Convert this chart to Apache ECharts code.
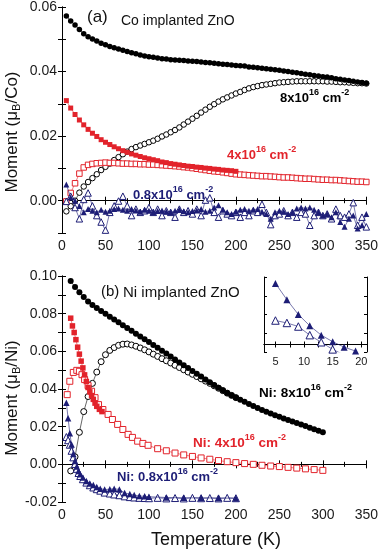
<!DOCTYPE html>
<html>
<head>
<meta charset="utf-8">
<script src="https://cdn.jsdelivr.net/npm/echarts@6/dist/echarts.min.js"></script>
<style>
html,body{margin:0;padding:0;background:#fff;}
#c{width:381px;height:551px;}
</style>
</head>
<body>
<div id="c"></div>
<script>
// ---------- Panel (a): Co implanted ZnO ----------
const coT = [5,10,15,20,25,30,35,40,45,50,55,60,65,70,75,80,85,90,95,100,105,110,115,120,125,130,135,140,145,150,155,160,165,170,175,180,185,190,195,200,205,210,215,220,225,230,235,240,245,250,255,260,265,270,275,280,285,290,295,300,305,310,315,320,325,330,335,340,345,350];
const co8FC = [0.0572,0.0557,0.0544,0.0530,0.0517,0.0508,0.0501,0.0495,0.0488,0.0483,0.0478,0.0474,0.0470,0.0466,0.0462,0.0458,0.0455,0.0451,0.0448,0.0446,0.0444,0.0442,0.0440,0.0439,0.0437,0.0436,0.0435,0.0434,0.0433,0.0432,0.0431,0.0430,0.0428,0.0427,0.0426,0.0424,0.0423,0.0422,0.0420,0.0419,0.0418,0.0417,0.0414,0.0413,0.0412,0.0410,0.0409,0.0407,0.0406,0.0404,0.0402,0.0400,0.0398,0.0396,0.0394,0.0392,0.0390,0.0388,0.0386,0.0384,0.0383,0.0381,0.0378,0.0376,0.0374,0.0372,0.0370,0.0368,0.0366,0.0364];
const co8ZFC = [-0.0033,-0.0017,0.0000,0.0025,0.0044,0.0058,0.0070,0.0082,0.0095,0.0105,0.0115,0.0126,0.0135,0.0144,0.0152,0.0160,0.0166,0.0171,0.0176,0.0181,0.0186,0.0192,0.0199,0.0205,0.0212,0.0219,0.0227,0.0236,0.0245,0.0254,0.0263,0.0273,0.0282,0.0291,0.0299,0.0307,0.0314,0.0320,0.0326,0.0332,0.0337,0.0343,0.0348,0.0352,0.0355,0.0358,0.0360,0.0362,0.0364,0.0366,0.0367,0.0368,0.0369,0.0370,0.0370,0.0370,0.0370,0.0370,0.0370,0.0370,0.0369,0.0369,0.0368,0.0367,0.0367,0.0366,0.0365,0.0364,0.0364,0.0363];
const co4T = [5,10,15,20,25,30,35,40,45,50,55,60,65,70,75,80,85,90,95,100,105,110,115,120,125,130,135,140,145,150,155,160,165,170,175,180,185,190,195,200];
const co4FC = [0.0310,0.0287,0.0267,0.0250,0.0235,0.0221,0.0209,0.0199,0.0189,0.0181,0.0174,0.0167,0.0161,0.0155,0.0150,0.0145,0.0141,0.0137,0.0133,0.0130,0.0127,0.0124,0.0120,0.0118,0.0115,0.0113,0.0111,0.0109,0.0107,0.0106,0.0104,0.0103,0.0101,0.0100,0.0098,0.0097,0.0095,0.0094,0.0093,0.0091];
const co4ZFC = [-0.0002,0.0024,0.0054,0.0084,0.0103,0.0111,0.0114,0.0116,0.0117,0.0118,0.0117,0.0117,0.0116,0.0115,0.0115,0.0114,0.0114,0.0113,0.0113,0.0112,0.0112,0.0111,0.0110,0.0109,0.0108,0.0107,0.0106,0.0104,0.0103,0.0101,0.0099,0.0097,0.0095,0.0093,0.0091,0.0090,0.0088,0.0086,0.0084,0.0082,0.0081,0.0080,0.0079,0.0078,0.0077,0.0076,0.0076,0.0075,0.0074,0.0073,0.0072,0.0072,0.0071,0.0070,0.0069,0.0068,0.0068,0.0067,0.0066,0.0065,0.0065,0.0064,0.0064,0.0063,0.0062,0.0061,0.0060,0.0059,0.0059,0.0058];
const co08FC = [0.0050,0.0010,0.0000,-0.0016,-0.0036,-0.0026,-0.0031,-0.0036,-0.0028,-0.0034,-0.0031,-0.0026,-0.0024,-0.0028,-0.0031,-0.0026,-0.0030,-0.0034,-0.0028,-0.0031,-0.0036,-0.0032,-0.0030,-0.0034,-0.0036,-0.0031,-0.0028,-0.0033,-0.0036,-0.0032,-0.0030,-0.0026,-0.0034,-0.0031,-0.0021,-0.0014,-0.0028,-0.0036,-0.0041,-0.0034,-0.0028,-0.0026,-0.0031,-0.0028,-0.0026,-0.0034,-0.0041,-0.0056,-0.0036,-0.0031,-0.0034,-0.0041,-0.0036,-0.0024,-0.0021,-0.0024,-0.0021,-0.0028,-0.0036,-0.0046,-0.0041,-0.0051,-0.0036,-0.0066,-0.0081,-0.0056,-0.0046,-0.0086,-0.0076,-0.0041];
const co08ZFC = [-0.0002,0.0014,-0.0021,-0.0056,0.0004,0.0024,-0.0016,-0.0046,-0.0066,-0.0091,-0.0036,-0.0016,-0.0001,0.0014,-0.0016,-0.0046,-0.0026,-0.0036,-0.0031,-0.0021,-0.0036,-0.0026,-0.0046,-0.0031,-0.0036,-0.0051,-0.0026,-0.0036,-0.0031,-0.0041,-0.0026,-0.0046,0.0002,0.0009,-0.0036,-0.0051,-0.0031,-0.0041,-0.0046,-0.0036,-0.0051,-0.0036,-0.0046,-0.0031,-0.0036,-0.0011,-0.0036,-0.0074,-0.0046,-0.0041,-0.0031,-0.0046,-0.0036,-0.0051,-0.0036,-0.0041,-0.0076,-0.0046,-0.0036,-0.0046,-0.0041,-0.0056,-0.0026,-0.0046,-0.0051,-0.0041,-0.0006,-0.0076,-0.0051,-0.0081];

// ---------- Panel (b): Ni implanted ZnO ----------
const ni8T = [10,15,20,25,30,35,40,45,50,55,60,65,70,75,80,85,90,95,100,105,110,115,120,125,130,135,140,145,150,155,160,165,170,175,180,185,190,195,200,205,210,215,220,225,230,235,240,245,250,255,260,265,270,275,280,285,290,295,300];
const ni8FC = [0.0973,0.0942,0.0914,0.0888,0.0864,0.0846,0.0830,0.0814,0.0799,0.0784,0.0769,0.0754,0.0739,0.0724,0.0709,0.0694,0.0679,0.0664,0.0649,0.0634,0.0619,0.0603,0.0588,0.0572,0.0557,0.0541,0.0526,0.0511,0.0496,0.0481,0.0466,0.0451,0.0436,0.0421,0.0407,0.0393,0.0379,0.0367,0.0355,0.0343,0.0332,0.0321,0.0310,0.0299,0.0289,0.0279,0.0270,0.0261,0.0252,0.0244,0.0236,0.0228,0.0220,0.0212,0.0203,0.0194,0.0186,0.0178,0.0171];
const ni8zT = [10,15,20,25,30,35,40,45,50,55,60,65,70,75,80,85,90,95,100,105,110,115,120,125,130,135,140,145,150,155,160,165,170,175,180,185,190,195,200];
const ni8ZFC = [-0.0035,0.0040,0.0170,0.0280,0.0360,0.0430,0.0490,0.0545,0.0582,0.0605,0.0620,0.0632,0.0638,0.0639,0.0634,0.0627,0.0618,0.0608,0.0597,0.0585,0.0573,0.0561,0.0550,0.0538,0.0526,0.0514,0.0502,0.0490,0.0478,0.0466,0.0454,0.0442,0.0430,0.0417,0.0404,0.0391,0.0378,0.0366,0.0354];
const ni4T = [10,12,14,16,18,20,22,24,26,28,30,32,34,36,38,40,43,46];
const ni4FC = [0.0776,0.0735,0.0700,0.0662,0.0622,0.0585,0.0548,0.0512,0.0475,0.0440,0.0408,0.0385,0.0365,0.0345,0.0325,0.0308,0.0292,0.0280];
const ni4zT = [6,9,13,17,20,23,26,30,34,38,42,47,53,58,64,70,76,81,87,93,99,110,120,130,140,150,160,170,180,190,200,210,220,230,240,250,260,270,280,290,300];
const ni4ZFC = [0.0370,0.0441,0.0488,0.0499,0.0494,0.0476,0.0450,0.0418,0.0388,0.0354,0.0317,0.0291,0.0265,0.0238,0.0212,0.0185,0.0159,0.0143,0.0123,0.0111,0.0101,0.0083,0.0072,0.0060,0.0050,0.0042,0.0034,0.0027,0.0020,0.0014,0.0009,0.0004,0.0000,-0.0005,-0.0009,-0.0012,-0.0016,-0.0020,-0.0024,-0.0028,-0.0032];
const ni08T = [5,7,9,11,13,15,17,19,21,24,28,32,36,40,44,49,55,60,66,72,78,83,89,95,100,120,140,160,180,200];
const ni08FC = [0.0327,0.0245,0.0165,0.0105,0.0055,0.0018,-0.0012,-0.0035,-0.0053,-0.0070,-0.0088,-0.0102,-0.0110,-0.0120,-0.0129,-0.0134,-0.0132,-0.0130,-0.0133,-0.0152,-0.0158,-0.0163,-0.0168,-0.0170,-0.0172,-0.0176,-0.0178,-0.0178,-0.0179,-0.0180];
const ni08zT = [5,7,9,11,13,15,17,19,21,24,28,32,36,40,44,49,55,60,66,72,78,83,89,95,100,110,120,130,140,150,160,170,180,190,200];
const ni08ZFC = [0.0145,0.0128,0.0104,0.0072,0.0037,0.0002,-0.0024,-0.0046,-0.0062,-0.0079,-0.0097,-0.0111,-0.0123,-0.0132,-0.0140,-0.0150,-0.0155,-0.0160,-0.0164,-0.0170,-0.0174,-0.0176,-0.0178,-0.0179,-0.0180,-0.0178,-0.0181,-0.0179,-0.0181,-0.0178,-0.0180,-0.0179,-0.0181,-0.0178,-0.0180];

// ---------- Inset (Ni 0.8x10^16, low T) ----------
const insetT = [5,7,9,11,13,15,17,19];
const insetFC = [0.0326,0.0239,0.0160,0.0100,0.0050,0.0015,-0.0014,-0.0035];
const insetZT = [5,7,9,11,13,15,17];
const insetZFC = [0.0128,0.0115,0.0096,0.0050,0.0012,-0.0026,-0.0056];

// tick labels
const xTicks = [0,50,100,150,200,250,300,350];
const insetXTicks = [5,10,15,20];

const FONT = 'Liberation Sans, Arial, Helvetica, sans-serif';
const BLACK = '#000000', RED = '#e2232b', NAVY = '#1d1d76';

function pairs(t, v){ return t.map((x,i)=>[x, v[i]]); }
// open = white fill with coloured outline
function ser(xi, yi, t, v, symbol, open, color, size, z){
  return {
    type:'line', xAxisIndex:xi, yAxisIndex:yi, data:pairs(t,v),
    symbol:symbol, symbolSize:size, showSymbol:true, animation:false, z:z||2,
    lineStyle:{color:color, width:0.6},
    itemStyle: open ? {color:'#ffffff', borderColor:color, borderWidth:1}
                    : {color:color, borderWidth:0},
    emphasis:{disabled:true}, silent:true
  };
}
function fmt2(v){
  const k = Math.round(v*100);
  if (Math.abs(k) % 2 !== 0) return '';
  const r = k/100;
  return (r === 0 ? 0 : r).toFixed(2);
}
const lab = {fontFamily:FONT, fontSize:14, color:'#1a1a1a'};
const aLine = {show:true, lineStyle:{color:'#000', width:1}};

function xMain(gi, min, max){
  return [
    {type:'value', gridIndex:gi, position:'bottom', min:min, max:max, interval:50,
     axisLine:aLine, axisTick:{inside:true, length:4, lineStyle:{color:'#000'}},
     minorTick:{show:true, splitNumber:2, length:2.5, lineStyle:{color:'#000'}},
     splitLine:{show:false}, axisLabel:Object.assign({margin:6, customValues:xTicks}, lab)},
    {type:'value', gridIndex:gi, position:'top', min:min, max:max, interval:50,
     axisLine:aLine, axisTick:{inside:true, length:4, lineStyle:{color:'#000'}},
     minorTick:{show:true, splitNumber:2, length:2.5, lineStyle:{color:'#000'}},
     splitLine:{show:false}, axisLabel:{show:false}}
  ];
}
function yMain(gi, min, max){
  return [
    {type:'value', gridIndex:gi, position:'left', min:min, max:max, interval:0.01,
     axisLine:aLine, axisTick:{inside:true, length:4, lineStyle:{color:'#000'}},
     splitLine:{show:false}, axisLabel:Object.assign({margin:5, formatter:fmt2}, lab)},
    {type:'value', gridIndex:gi, position:'right', min:min, max:max, interval:0.01,
     axisLine:aLine, axisTick:{inside:true, length:4, lineStyle:{color:'#000'}},
     splitLine:{show:false}, axisLabel:{show:false}}
  ];
}

function supLabel(x, y, a, s1, b, s2, color, size, ssize){
  return {type:'text', x:x, y:y, silent:true, z:10,
    style:{text:'{m|'+a+'}{s|'+s1+'}{m|'+b+'}{s|'+s2+'}', align:'left', verticalAlign:'middle',
      rich:{
        m:{fontFamily:FONT, fontSize:size, fontWeight:'bold', fill:color, lineHeight:20},
        s:{fontFamily:FONT, fontSize:ssize, fontWeight:'bold', fill:color, lineHeight:ssize, verticalAlign:'top'}
      }}};
}
function plainText(x, y, text, size, align){
  return {type:'text', x:x, y:y, silent:true, z:10,
    style:{text:text, fontFamily:FONT, fontSize:size, fill:'#111', align:align||'left', verticalAlign:'middle'}};
}
function yTitle(x, y, unit){
  return {type:'text', x:x, y:y, rotation:Math.PI/2, silent:true, z:10,
    style:{text:'{m|Moment (μ}{b|B}{m|/'+unit+')}', align:'center', verticalAlign:'middle',
      rich:{
        m:{fontFamily:FONT, fontSize:17, fill:'#111', lineHeight:20},
        b:{fontFamily:FONT, fontSize:11, fill:'#111', lineHeight:11, verticalAlign:'bottom'}
      }}};
}

const chart = echarts.init(document.getElementById('c'), null, {renderer:'canvas'});
const xs = [].concat(xMain(0,0,350), xMain(1,0,350), [
  {type:'value', gridIndex:2, position:'bottom', min:3, max:21,
   axisLine:aLine, axisTick:{inside:true, length:3, customValues:[5,7.5,10,12.5,15,17.5,20], lineStyle:{color:'#000'}},
   splitLine:{show:false},
   axisLabel:{fontFamily:FONT, fontSize:11, color:'#1a1a1a', margin:4, customValues:insetXTicks}},
  {type:'value', gridIndex:2, position:'top', min:3, max:21,
   axisLine:aLine, axisTick:{inside:true, length:3, customValues:[5,7.5,10,12.5,15,17.5,20], lineStyle:{color:'#000'}},
   splitLine:{show:false}, axisLabel:{show:false}}
]);
const ys = [].concat(yMain(0,-0.01,0.06), yMain(1,-0.02,0.10), [
  {type:'value', gridIndex:2, position:'left', min:-0.004, max:0.036, interval:0.01,
   axisLine:aLine, axisTick:{inside:true, length:3, lineStyle:{color:'#000'}}, splitLine:{show:false}, axisLabel:{show:false}},
  {type:'value', gridIndex:2, position:'right', min:-0.004, max:0.036, interval:0.01,
   axisLine:aLine, axisTick:{inside:true, length:3, lineStyle:{color:'#000'}}, splitLine:{show:false}, axisLabel:{show:false}}
]);

const option = {
  backgroundColor:'#ffffff',
  animation:false,
  grid:[
    {left:62, right:11, top:6, height:227},
    {left:62, right:11, top:276, height:226},
    {left:264, top:277, width:103, height:75, show:true, backgroundColor:'#ffffff', borderWidth:0}
  ],
  xAxis: xs,
  yAxis: ys,
  series:[
    // panel a
    ser(0,0,coT,co8ZFC,'circle',true,BLACK,5.5,2),
    ser(0,0,coT,co8FC,'circle',false,BLACK,5.5,3),
    ser(0,0,coT,co4ZFC,'rect',true,RED,5.5,2),
    ser(0,0,co4T,co4FC,'rect',false,RED,5,3),
    ser(0,0,coT,co08ZFC,'triangle',true,NAVY,6.5,2),
    ser(0,0,coT,co08FC,'triangle',false,NAVY,6,3),
    // panel b
    ser(2,2,ni8zT,ni8ZFC,'circle',true,BLACK,6,2),
    ser(2,2,ni8T,ni8FC,'circle',false,BLACK,6,3),
    ser(2,2,ni4zT,ni4ZFC,'rect',true,RED,6,2),
    ser(2,2,ni4T,ni4FC,'rect',false,RED,5.5,3),
    ser(2,2,ni08zT,ni08ZFC,'triangle',true,NAVY,7,2),
    ser(2,2,ni08T,ni08FC,'triangle',false,NAVY,6.5,3),
    // inset
    ser(4,4,insetZT,insetZFC,'triangle',true,NAVY,7.5,4),
    ser(4,4,insetT,insetFC,'triangle',false,NAVY,7,4)
  ],
  graphic:[
    plainText(87,17.5,'(a)',17),
    plainText(121,21,'Co implanted ZnO',14),
    supLabel(280,98,'8x10','16',' cm','-2',BLACK,13,9),
    supLabel(227,155,'4x10','16',' cm','-2',RED,13,9),
    supLabel(133,195,'0.8x10','16',' cm','-2',NAVY,13,9),
    plainText(101,292,'(b)',15),
    plainText(123,293,'Ni implanted ZnO',15),
    supLabel(259,393,'Ni: 8x10','16',' cm','-2',BLACK,13.5,9),
    supLabel(193,443,'Ni: 4x10','16',' cm','-2',RED,13.5,9),
    supLabel(117,477,'Ni: 0.8x10','16',' cm','-2',NAVY,13,9),
    yTitle(12,132,'Co'),
    yTitle(12,398,'Ni'),
    plainText(216,540,'Temperature (K)',18,'center')
  ]
};
chart.setOption(option);
</script>
</body>
</html>
